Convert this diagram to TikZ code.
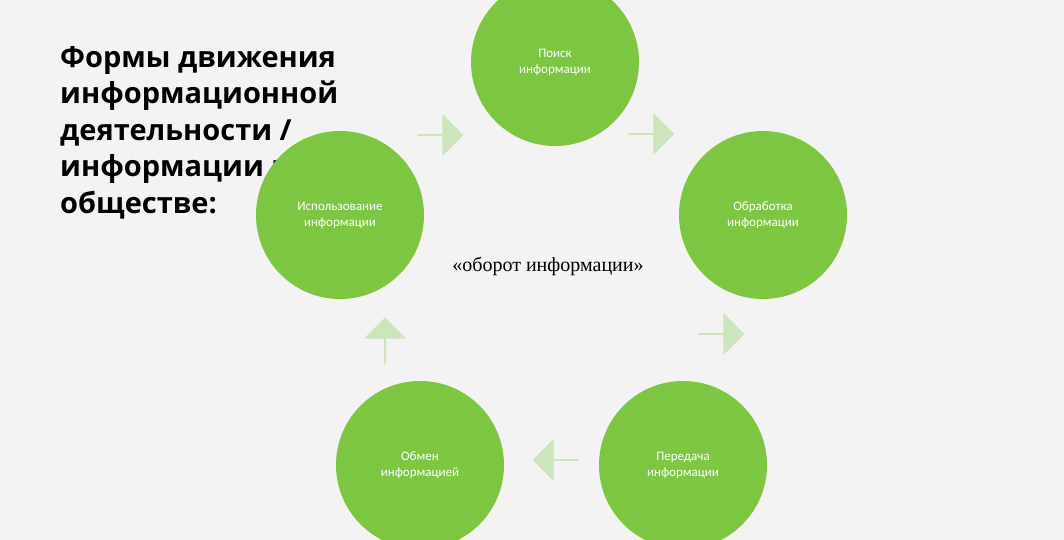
\documentclass[tikz,border=0pt]{standalone}
\usepackage{fontspec}
\setmainfont{Liberation Serif}
\newfontfamily\cfont{Carlito}
\newfontfamily\tfont{Open Sans}
\usetikzlibrary{shapes.arrows}
\definecolor{bgray}{HTML}{F3F3F3}
\definecolor{cgreen}{HTML}{7DC642}
\definecolor{agreen}{HTML}{CDE5BD}
\tikzset{
  stage/.style={circle, fill=cgreen, minimum size=168pt, inner sep=0pt,
    text=white, align=center, font=\cfont\fontsize{13}{16}\selectfont},
  flow/.style={single arrow, fill=agreen, minimum height=46pt, minimum width=42pt,
    single arrow head extend=5pt, inner sep=0pt}
}
\begin{document}
\begin{tikzpicture}[x=1pt,y=-1pt]
  \fill[bgray] (0,0) rectangle (1064,540);
  \useasboundingbox (0,0) rectangle (1064,540);
  % title
  \node (title) [anchor=north west, align=left, inner sep=0pt,
    font=\tfont\bfseries\fontsize{29}{36.5}\selectfont] at (60,46)
    {Формы движения\\информационной\\деятельности /\\информации в\\обществе:};
  % stages
  \node (search) [stage] at (555,62) {Поиск\\информации};
  \node (proc) [stage] at (763,215) {Обработка\\информации};
  \node (send) [stage] at (683,465) {Передача\\информации};
  \node (share) [stage] at (420,465) {Обмен\\информацией};
  \node (use) [stage] at (340,215) {Использование\\информации};
  \node (center) [font=\fontsize{20}{24}\selectfont] at (548,266) {«оборот информации»};
  % arrows
  \node (a1) [flow, shape border rotate=-45] at (651,134) {};
  \node (a2) [flow, shape border rotate=-95] at (721,334) {};
  \node (a3) [flow, shape border rotate=180] at (556,460) {};
  \node (a4) [flow, shape border rotate=90] at (385,341) {};
  \node (a5) [flow, shape border rotate=35] at (440,135) {};
\end{tikzpicture}
\end{document}
